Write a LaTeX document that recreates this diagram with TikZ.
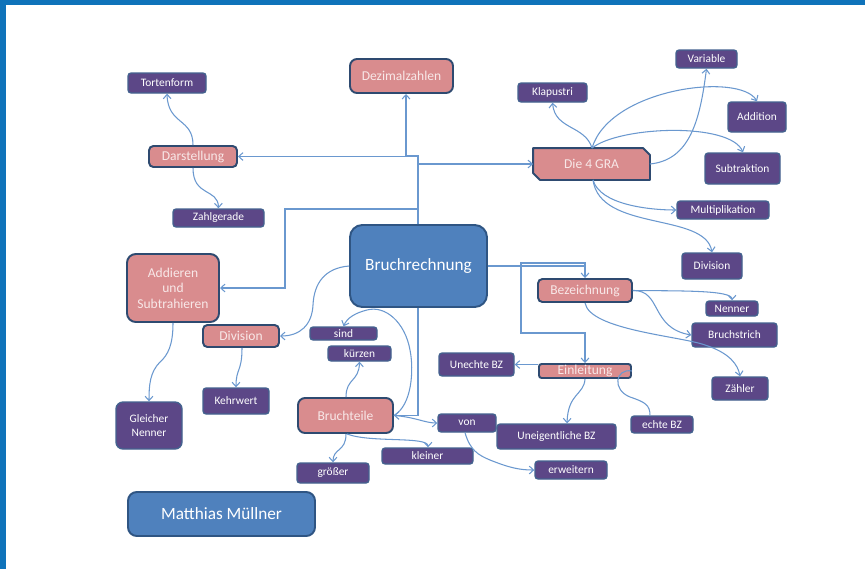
\documentclass[tikz,border=0pt]{standalone}
\usepackage{fontspec}
\setmainfont{Carlito}
\usetikzlibrary{arrows.meta,backgrounds}
\definecolor{frameblue}{HTML}{0F73BA}
\definecolor{lineblue}{HTML}{6A98CF}
\definecolor{purpfill}{HTML}{5C4787}
\definecolor{purpborder}{HTML}{44628F}
\definecolor{pinkfill}{HTML}{D98C8E}
\definecolor{pinktext}{HTML}{F8E8E8}
\definecolor{navy}{HTML}{2E4A70}
\definecolor{bluefill}{HTML}{4F81BD}
\definecolor{blueborder}{HTML}{2F5583}
\tikzset{
  conn/.style={draw=lineblue, line width=0.6pt},
  arr/.style={conn, -{Straight Barb[length=2.4pt,width=4.4pt]}},
  purp/.style={draw=purpborder, fill=purpfill, line width=0.8pt, rounded corners=1.8pt, text=white, font=\fontsize{6.5}{7.5}\selectfont, inner sep=0pt, align=center},
  pinkb/.style={draw=navy, fill=pinkfill, line width=1.1pt, rounded corners=2.5pt, text=pinktext, font=\fontsize{7.7}{8.8}\selectfont, inner sep=0pt, align=center},
  blueb/.style={draw=blueborder, fill=bluefill, line width=1.1pt, rounded corners=6pt, text=white, inner sep=0pt},
  sz/.style 2 args={minimum width=#1*0.02cm, minimum height=#2*0.02cm}
}
\begin{document}
\begin{tikzpicture}[x=0.02cm,y=-0.02cm]
\useasboundingbox (0,0) rectangle (865,569);
\fill[frameblue] (0,0) rectangle (865,5);
\fill[frameblue] (0,0) rectangle (6,569);

% nodes
\node[purp, sz={78}{20}] (torten) at (167,83) {Tortenform};
\node[pinkb, sz={103}{34}, rounded corners=4pt] (dezimal) at (401.5,76) {Dezimalzahlen};
\node[pinkb, sz={88}{21}] (darst) at (193,156.5) {Darstellung};
\node[purp, sz={91}{18}] (zahlg) at (218.5,218) {Zahlgerade};
\node[blueb, sz={137}{82}, rounded corners=7pt, font=\fontsize{9.8}{11}\selectfont] (bruch) at (418.5,266) {Bruchrechnung};
\node[pinkb, sz={92}{68}, rounded corners=5pt] (addsub) at (173,288) {Addieren\\und\\Subtrahieren};
\node[pinkb, sz={76}{22}] (divl) at (241,336) {Division};
\node[purp, sz={67}{13}] (sind) at (343.5,333.5) {sind};
\node[purp, sz={63}{15}] (kuerzen) at (359.5,353.5) {kürzen};
\node[purp, sz={66}{26}] (kehr) at (236,401) {Kehrwert};
\node[purp, sz={66}{47}, rounded corners=4pt] (gleich) at (149,425.5) {Gleicher\\Nenner};
\node[pinkb, sz={95}{35}, rounded corners=4pt] (bteile) at (345.5,415.5) {Bruchteile};
\node[purp, sz={58}{18}] (von) at (467,423) {von};
\node[purp, sz={91}{16}] (kleiner) at (427.5,456) {kleiner};
\node[purp, sz={72}{20}] (groesser) at (333,473) {größer};
\node[blueb, sz={187}{44}, rounded corners=5pt, font=\fontsize{9.8}{11}\selectfont] (name) at (221.5,514) {Matthias Müllner};
\node[purp, sz={119}{25}] (uneig) at (556.5,436.5) {Uneigentliche BZ};
\node[purp, sz={72}{18}] (erw) at (571,470) {erweitern};
\node[purp, sz={75}{23}] (unecht) at (476.5,364.5) {Unechte BZ};
\node[pinkb, sz={92}{14}, rounded corners=1.5pt] (einl) at (585,371) {Einleitung};
\node[purp, sz={62}{17}] (echt) at (662,424.5) {echte BZ};
\node[pinkb, sz={94}{23}] (bez) at (585,290.5) {Bezeichnung};
\node[purp, sz={52}{15}] (nenner) at (732,308.5) {Nenner};
\node[purp, sz={85}{24}] (bstrich) at (734.5,335) {Bruchstrich};
\node[purp, sz={56}{23}] (zaehler) at (740,388.5) {Zähler};
\node[purp, sz={60}{26}] (divr) at (712,266) {Division};
\node[pinkb, draw=none, fill=none, sz={115}{30}] (gra) at (591.5,164) {Die 4 GRA};
\node[purp, sz={69}{19}] (klap) at (552.5,92.5) {Klapustri};
\node[purp, sz={61}{18}] (var) at (706.5,59) {Variable};
\node[purp, sz={58}{30}] (addi) at (757,117) {Addition};
\node[purp, sz={75}{31}] (subt) at (742.5,168.5) {Subtraktion};
\node[purp, sz={92}{18}] (mult) at (723,210) {Multiplikation};

\begin{pgfonlayer}{background}
\fill[white] (6,5) rectangle (865,569);
\draw[draw=navy, fill=pinkfill, line width=1.1pt, line join=round]
  (gra.north west) -- ([xshift=-0.14cm]gra.north east) -- ([yshift=-0.14cm]gra.north east)
  -- (gra.south east) -- ([xshift=0.14cm]gra.south west) -- ([yshift=0.14cm]gra.south west) -- cycle;
\end{pgfonlayer}

% connectors from Bruchrechnung
\draw[arr] (418,0 |- bruch.north) -- (418,156) -- (406,156) -- (406,0 |- dezimal.south);
\draw[arr] (418,0 |- bruch.north) |- (darst.east);
\draw[arr] (418,0 |- bruch.north) |- (gra.west);
\draw[arr] (418,0 |- bruch.north) -- (418,209) -- (285,209) |- (addsub.east);
\draw[arr] (bruch.east) -| (bez.north);
\draw[arr] (bruch.east) -- (585,266) -- (585,263) -- (521,263) -- (521,333) -- (585,333) -- (einl.north);
\draw[arr] (bruch.west) .. controls (325,268) and (314,283) .. (313,305) .. controls (312,325) and (300,336) .. (divl.east);
\draw[arr] (418,0 |- bruch.south) |- (bteile.east);

% Bruchteile
\draw[arr] (bteile.east) .. controls (415,417) and (425,423) .. (von.west);
\draw[arr] (bteile.east) .. controls (412,405) and (414,370) .. (410,350) .. controls (405,322) and (385,305) .. (367,310) .. controls (355,313) and (347,318) .. (sind.north);
\draw[arr] (346,0 |- bteile.north) .. controls (346,378) and (359,382) .. (359.5,0 |- kuerzen.south);
\draw[arr] (346,0 |- bteile.south) .. controls (346,452) and (333,448) .. (333,0 |- groesser.north);
\draw[arr] (347,0 |- bteile.south) .. controls (370,443) and (428,436) .. (428,0 |- kleiner.north);
\draw[arr] (465,0 |- von.south) .. controls (470,450) and (478,455) .. (490,460) .. controls (510,468) and (520,470) .. (erw.west);

% left side
\draw[arr] (173,0 |- addsub.south) .. controls (173,345) and (168,355) .. (160,362) .. controls (150,372) and (149,385) .. (149,0 |- gleich.north);
\draw[arr] (242,0 |- divl.south) .. controls (242,372) and (236,368) .. (236,0 |- kehr.north);
\draw[arr] (193,0 |- darst.north) .. controls (193,118) and (168,125) .. (167,0 |- torten.south);
\draw[arr] (193,0 |- darst.south) .. controls (193,197) and (218,188) .. (218.5,0 |- zahlg.north);

% Die 4 GRA
\draw[arr] (592,0 |- gra.north) .. controls (585,125) and (555,130) .. (552.5,0 |- klap.south);
\draw[arr] (gra.east) .. controls (690,160) and (700,120) .. (706.5,0 |- var.south);
\draw[arr] (592,0 |- gra.north) .. controls (610,88) and (740,72) .. (757,0 |- addi.north);
\draw[arr] (592,0 |- gra.north) .. controls (620,126) and (730,122) .. (743,0 |- subt.north);
\draw[arr] (593,0 |- gra.south) .. controls (600,205) and (650,210) .. (mult.west);
\draw[arr] (593,0 |- gra.south) .. controls (600,232) and (705,212) .. (712,0 |- divr.north);

% Bezeichnung
\draw[arr] (bez.east) .. controls (680,291) and (732,290) .. (732,0 |- nenner.north);
\draw[arr] (bez.east) .. controls (662,290) and (650,328) .. (bstrich.west);
\draw[arr] (585,0 |- bez.south) .. controls (590,330) and (680,336) .. (705,345) .. controls (730,353) and (738,365) .. (740,0 |- zaehler.north);

% Einleitung
\draw[arr] (einl.west |- unecht.east) -- (unecht.east);
\draw[arr] (585,0 |- einl.south) .. controls (584,395) and (568,393) .. (567,0 |- uneig.north);
\draw[conn] (einl.east) .. controls (615,368) and (612,390) .. (630,397) .. controls (645,402) and (650,405) .. (650,0 |- echt.north);
\end{tikzpicture}
\end{document}
